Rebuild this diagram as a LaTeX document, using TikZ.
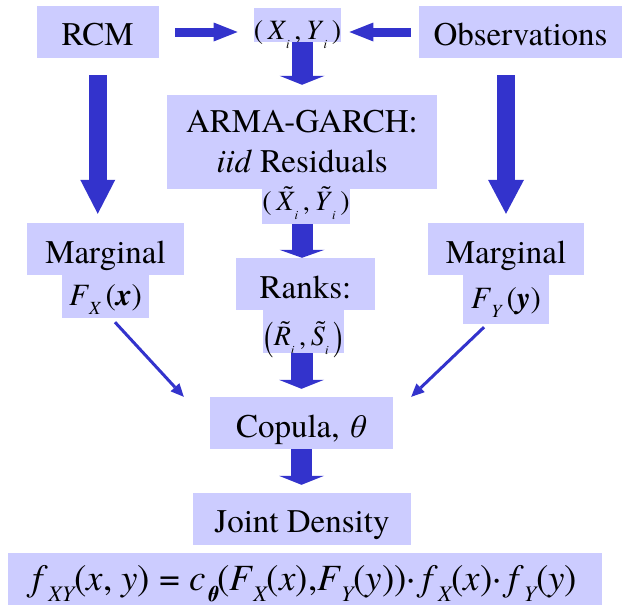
\documentclass[tikz,border=0pt]{standalone}
\usepackage{fontspec}
\setmainfont{texgyretermes-regular.otf}[BoldFont=texgyretermes-bold.otf,ItalicFont=texgyretermes-italic.otf,BoldItalicFont=texgyretermes-bolditalic.otf]
\usepackage{graphicx}
\usetikzlibrary{arrows.meta}
\definecolor{boxc}{RGB}{204,204,255}
\definecolor{arrc}{RGB}{51,51,204}
\newcommand\vsub[1]{\raisebox{-0.3em}{\scalebox{0.6}{\itshape #1}}}
\newcommand\isub{\raisebox{-0.35em}{\scalebox{0.45}{\itshape i}}}
\newcommand\tld[1]{\setbox0\hbox{#1}\rlap{\hbox to\wd0{\hss\kern0.2em\raisebox{0.2em}{\char"02DC}\hss}}\box0}
\begin{document}
\begin{tikzpicture}[x=1pt,y=-1pt,
  box/.style={fill=boxc, draw=none, inner sep=0pt, font=\fontsize{33}{40}\selectfont},
  mathbox/.style={box, font=\fontsize{28}{30}\selectfont},
  fbox/.style={box, font=\fontsize{31}{34}\selectfont},
  blk/.style n args={3}{draw=arrc, line width=#1, -{Triangle[width=#2,length=#3,line width=0pt]}},
  thinarrow/.style={draw=arrc, line width=3pt, -{Triangle[width=12pt,length=13pt,line width=0pt]}}
]
\useasboundingbox (0,0) rectangle (622,605);

% top row
\node[box, text height=27pt, text depth=0pt, minimum width=122.5pt, minimum height=52pt] (rcm) at (97.75,32) {RCM};
\node[mathbox, text height=28pt, text depth=0pt, minimum width=87pt, minimum height=34pt] (xy) at (297.5,25)
  {(\,\textit{X}\isub\,,\,\textit{Y}\isub\,)};
\node[box, text height=27pt, text depth=0pt, minimum width=203pt, minimum height=52pt] (obs) at (520.5,32) {Observations};

% ARMA-GARCH
\node[box, align=center, minimum width=270pt, minimum height=94pt] (arma) at (302,142)
  {ARMA-GARCH:\\\textit{iid} Residuals};
\node[mathbox, text height=7pt, text depth=0pt, minimum width=86pt, minimum height=35pt] (xt) at (306,206.5)
  {(\,\tld{\textit{X}}\isub\,,\,\tld{\textit{Y}}\isub\,)};

% marginals
\node[box, text height=28pt, text depth=0pt, minimum width=157pt, minimum height=52pt] (margL) at (105.5,249) {Marginal};
\node[fbox, text height=17pt, text depth=0pt, minimum width=87pt, minimum height=43pt] (fx) at (105.5,296.5)
  {\textit{F}\vsub{X}\,(\textbf{\textit{x}})};
\node[box, text height=28pt, text depth=0pt, minimum width=156pt, minimum height=52pt] (margR) at (506,249) {Marginal};
\node[fbox, text height=17pt, text depth=0pt, minimum width=86pt, minimum height=49pt] (fy) at (506,299.5)
  {\textit{F}\vsub{Y}\,(\textbf{\textit{y}})};

% ranks
\node[box, text height=28pt, text depth=0pt, minimum width=139pt, minimum height=52pt] (ranks) at (305.5,284) {Ranks:};
\node[mathbox, text height=27pt, text depth=0pt, minimum width=81pt, minimum height=43pt] (rs) at (303.5,331.5)
  {\raisebox{-0.2em}{\scalebox{1}[1.5]{(}}\tld{\textit{R}}\isub\,,\,\tld{\textit{S}}\isub\,\raisebox{-0.2em}{\scalebox{1}[1.5]{)}}};

% copula, joint density
\node[box, text height=28pt, text depth=0pt, minimum width=183pt, minimum height=52pt] (cop) at (301.5,423) {Copula, \textit{θ}};
\node[box, text height=26pt, text depth=0pt, minimum width=218pt, minimum height=52pt] (jd) at (302,519) {Joint Density};
\node[box, font=\fontsize{37}{40}\selectfont, text height=22pt, text depth=0pt, minimum width=594pt, minimum height=52pt] (form) at (305,579)
  {\textit{f}\vsub{XY}(\textit{x}, \textit{y}) = \textit{c}\vsub{\bfseries θ}(\textit{F}\vsub{X}(\textit{x}),\textit{F}\vsub{Y}(\textit{y}))·\,\textit{f}\vsub{X}(\textit{x})·\,\textit{f}\vsub{Y}(\textit{y})};

% block arrows
\draw[blk={9pt}{19pt}{24pt}, shorten <=16pt, shorten >=16pt] (rcm.east) -- (rcm.east -| xy.west);
\draw[blk={9pt}{19pt}{24pt}, shorten <=8pt, shorten >=8pt] (obs.west) -- (obs.west -| xy.east);
\draw[blk={21pt}{45pt}{9pt}, shorten >=10pt] (xy.south -| arma.north) -- (arma.north);
\draw[blk={18pt}{35pt}{34pt}, shorten <=17pt, shorten >=9pt] (rcm.south) -- (rcm.south |- margL.north);
\draw[blk={18pt}{36pt}{34pt}, shorten <=17pt, shorten >=9pt] (obs.south -| margR.north) -- (margR.north);
\draw[blk={21pt}{45pt}{8pt}] (xt.south -| arma.south) -- (ranks.north -| arma.south);
\draw[blk={22pt}{45pt}{9pt}, shorten >=8pt] (rs.south -| cop.north) -- (cop.north);
\draw[blk={21pt}{45pt}{9pt}, shorten >=8pt] (cop.south) -- (jd.north -| cop.south);

% thin arrows
\draw[thinarrow] ([xshift=9.5pt,yshift=-4pt]fx.south) -- ([xshift=-26pt]cop.north west);
\draw[thinarrow] ([xshift=-22pt,yshift=-3pt]fy.south) -- ([xshift=18pt]cop.north east);
\end{tikzpicture}
\end{document}
